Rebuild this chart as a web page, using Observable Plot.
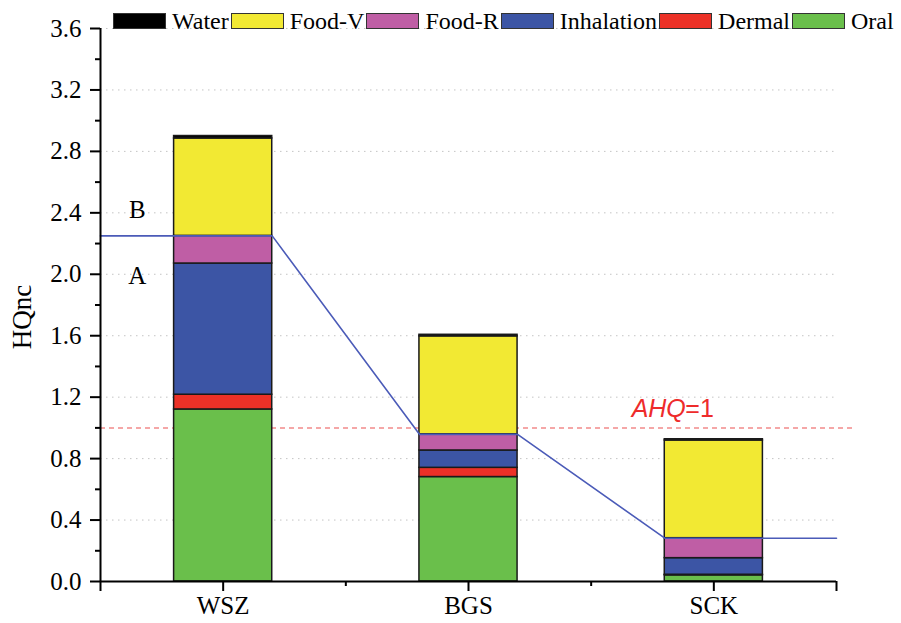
<!DOCTYPE html>
<html><head><meta charset="utf-8">
<script src="https://cdn.jsdelivr.net/npm/d3@7"></script>
<script src="https://cdn.jsdelivr.net/npm/@observablehq/plot@0.6"></script>
<style>
body{margin:0;background:#fff;}
#wrap{position:relative;width:901px;height:623px;}
#legend{position:absolute;top:9px;left:113px;display:flex;align-items:center;font-family:"Liberation Serif",serif;font-size:24px;color:#000;white-space:nowrap;line-height:24px;}
.sw{width:51px;height:14px;border:1px solid #333;margin-right:6px;box-sizing:content-box;flex:none;}
.lab{margin-right:2px;flex:none;}
#wrap svg{position:absolute;top:0;left:0;}
</style></head><body><div id="wrap"><div id="legend"></div></div>
<script>
// ---- data ----
const sites = ["WSZ", "BGS", "SCK"];
const pathways = ["Oral", "Dermal", "Inhalation", "Food-R", "Food-V", "Water"];
const oral       = [1.12, 0.68, 0.04];
const dermal     = [0.096, 0.06, 0.004];
const inhalation = [0.854, 0.113, 0.108];
const foodR      = [0.18, 0.105, 0.13];
const foodV      = [0.634, 0.638, 0.636];
const water      = [0.016, 0.01, 0.008];
const colors = ["#6abf4b", "#ec3127", "#3c55a5", "#bf5ea5", "#f2e933", "#000000"];
const legendOrder = ["Water", "Food-V", "Food-R", "Inhalation", "Dermal", "Oral"];
const yTicks = [0, 0.4, 0.8, 1.2, 1.6, 2.0, 2.4, 2.8, 3.2, 3.6];
const yMinorTicks = [0.2, 0.6, 1.0, 1.4, 1.8, 2.2, 2.6, 3.0, 3.4];
const ahq = 1;
const levelLabels = ["B", "A"];

// ---- derived ----
const series = [oral, dermal, inhalation, foodR, foodV, water];
const colorOf = Object.fromEntries(pathways.map((p, k) => [p, colors[k]]));
const half = 0.2;
const xMin = -0.5, xMax = sites.length - 0.5;
const rows = [];
sites.forEach((s, i) => {
  let c = 0;
  series.forEach((arr, k) => {
    rows.push({site: s, i, path: pathways[k], y1: c, y2: c + arr[i]});
    c += arr[i];
  });
});
const aLevel = sites.map((s, i) => oral[i] + dermal[i] + inhalation[i] + foodR[i]);
const linePts = [{x: xMin, y: aLevel[0]}];
sites.forEach((s, i) => {
  if (i > 0) linePts.push({x: i - half, y: aLevel[i]});
  linePts.push({x: i + half, y: aLevel[i]});
});
linePts.push({x: xMax, y: aLevel[sites.length - 1]});
const labelX = (xMin + (0 - half)) / 2;
const sckIndex = sites.indexOf("SCK");
const xMinor = sites.slice(1).map((s, i) => i + 0.5);

// legend
const leg = document.getElementById("legend");
legendOrder.forEach(name => {
  const sw = document.createElement("div");
  sw.className = "sw";
  sw.style.background = colorOf[name];
  leg.appendChild(sw);
  const t = document.createElement("span");
  t.className = "lab";
  t.textContent = name;
  leg.appendChild(t);
});

const plot = Plot.plot({
  width: 901, height: 623,
  marginLeft: 100, marginRight: 65, marginTop: 28, marginBottom: 42,
  style: {fontFamily: "Liberation Serif, serif", fontSize: "24px", color: "#000", background: "transparent"},
  x: {type: "linear", domain: [xMin, xMax], axis: null},
  y: {domain: [0, 3.6], axis: null},
  marks: [
    Plot.gridY(yTicks.filter(d => d > 0), {stroke: "#c4c4c4", strokeOpacity: 1, strokeDasharray: "1.5,4.5"}),
    Plot.ruleY([ahq], {x1: xMin, x2: xMax + 0.07, stroke: "#f28b8b", strokeWidth: 1.5, strokeDasharray: "5,4"}),
    Plot.rect(rows, {x1: d => d.i - half, x2: d => d.i + half, y1: "y1", y2: "y2",
      fill: d => colorOf[d.path], stroke: "#1a1a1a", strokeWidth: 1.5}),
    Plot.line(linePts, {x: "x", y: "y", stroke: "#4b5bb8", strokeWidth: 1.6}),
    Plot.ruleX([xMin], {stroke: "#000", strokeWidth: 2}),
    Plot.ruleY([0], {stroke: "#000", strokeWidth: 2}),
    Plot.axisY(yTicks, {tickSize: 10, tickPadding: 9, strokeWidth: 2, tickFormat: d => d.toFixed(1), fontSize: 25, label: null}),
    Plot.axisY(yMinorTicks, {tickSize: 5, strokeWidth: 2, tickFormat: () => "", label: null}),
    Plot.axisX([xMin, ...sites.map((s, i) => i), xMax], {tickSize: 10, tickPadding: 5, strokeWidth: 2,
      tickFormat: d => Number.isInteger(d) && d >= 0 && d < sites.length ? sites[d] : "", fontSize: 25, label: null}),
    Plot.axisX(xMinor, {tickSize: 5, strokeWidth: 2, tickFormat: () => "", label: null}),
    Plot.text(["HQnc"], {frameAnchor: "left", textAnchor: "middle", rotate: -90, dx: -78, dy: 12, fontSize: 27}),
    Plot.text([levelLabels[0]], {x: labelX, y: aLevel[0], dy: -26, fontSize: 25}),
    Plot.text([levelLabels[1]], {x: labelX, y: aLevel[0], dy: 40, fontSize: 25}),
    Plot.text([ahq], {x: sckIndex, y: ahq, text: () => "=1", textAnchor: "end", dy: -19,
      fill: "#ee2b2b", fontFamily: "Liberation Sans, sans-serif", fontSize: 25}),
    Plot.text([ahq], {x: sckIndex, y: ahq, text: () => "AHQ", textAnchor: "end", dy: -19, dx: -28,
      fill: "#ee2b2b", fontFamily: "Liberation Sans, sans-serif", fontStyle: "italic", fontSize: 25})
  ]
});
document.getElementById("wrap").insertBefore(plot, document.getElementById("legend"));
</script></body></html>
